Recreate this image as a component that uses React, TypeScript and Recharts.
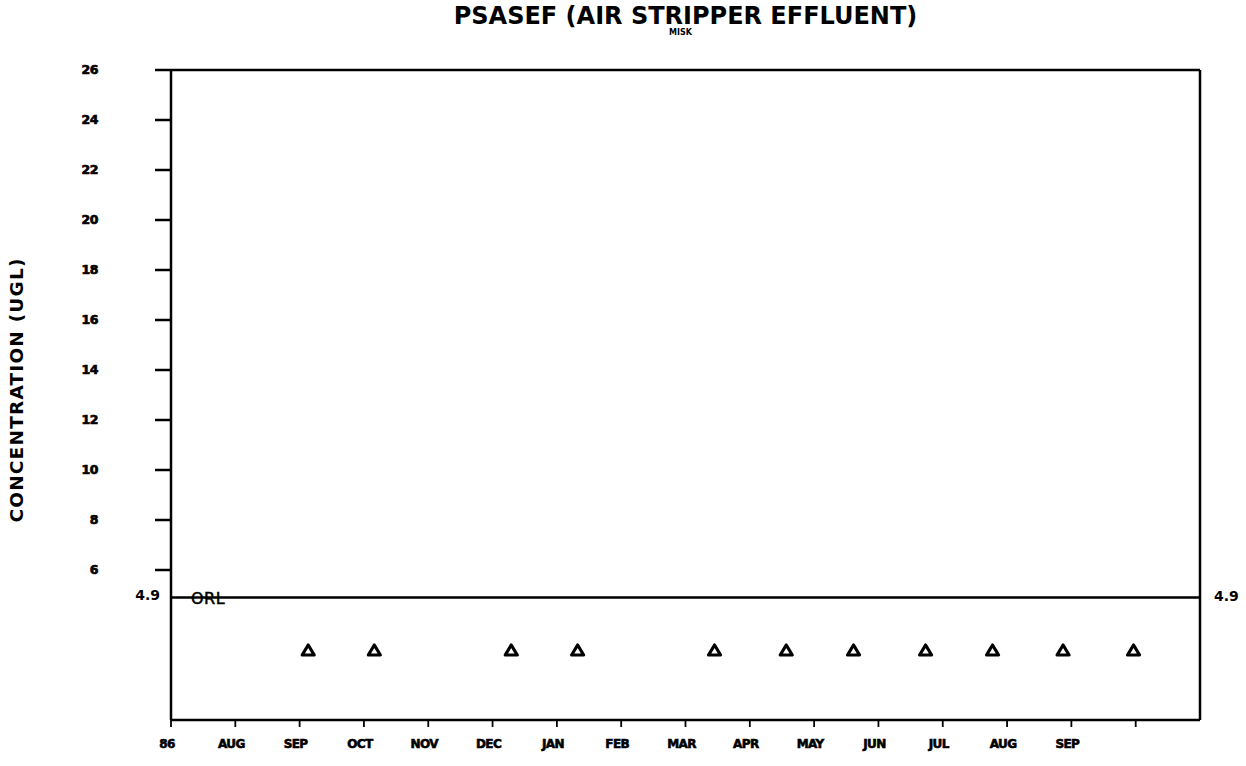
import React from 'react';
import { ComposedChart, XAxis, YAxis, Scatter, ReferenceLine } from 'recharts';

const monthLabels = ['86', 'AUG', 'SEP', 'OCT', 'NOV', 'DEC', 'JAN', 'FEB', 'MAR', 'APR', 'MAY', 'JUN', 'JUL', 'AUG', 'SEP', ''];
const yTicks = [6, 8, 10, 12, 14, 16, 18, 20, 22, 24, 26];
// sample dates as [year, month(1-12), day]
const sampleDates: [number, number, number][] = [
  [1986, 9, 5], [1986, 10, 6], [1986, 12, 10], [1987, 1, 11], [1987, 3, 15], [1987, 4, 18],
  [1987, 5, 20], [1987, 6, 23], [1987, 7, 25], [1987, 8, 28], [1987, 9, 30],
];
const sampleValues = [2.8, 2.8, 2.8, 2.8, 2.8, 2.8, 2.8, 2.8, 2.8, 2.8, 2.8];
const orlValue = 4.9;
const xMax = 16;
const yMax = 26;

const daysIn = (y: number, m: number) => new Date(y, m, 0).getDate();
const toMonthOffset = ([y, m, d]: [number, number, number]) => (y - 1986) * 12 + (m - 7) + (d - 1) / daysIn(y, m);

const data = sampleDates.map((dt, i) => ({ x: toMonthOffset(dt), y: sampleValues[i] }));
const xTicks = monthLabels.map((_, i) => i);

const FONT_B = '"DejaVu Sans", sans-serif';

const Triangle = (props: any) => {
  const { cx, cy } = props;
  const w = 6, h = 5;
  return (
    <path d={`M${cx},${cy - h} L${cx + w},${cy + h} L${cx - w},${cy + h} Z`} fill="none" stroke="#000" strokeWidth={3.2} strokeLinejoin="round" />
  );
};

const XTick = (props: any) => {
  const { payload } = props;
  const label = monthLabels[payload.value] ?? '';
  return (
    <text x={payload.coordinate - 4} y={748} textAnchor="middle" fontFamily={FONT_B} fontWeight="bold" fontSize={12} letterSpacing={-0.6} stroke="#000" strokeWidth={0.6} fill="#000">
      {label}
    </text>
  );
};

const YTick = (props: any) => {
  const { payload } = props;
  return (
    <text x={98} y={payload.coordinate + 4} textAnchor="end" fontFamily={FONT_B} fontWeight="bold" fontSize={12.5} letterSpacing={-0.5} stroke="#000" strokeWidth={0.7} fill="#000">
      {payload.value}
    </text>
  );
};

const OrlLabel = (props: any) => {
  const vb = props.viewBox || {};
  const y = vb.y;
  const x1 = vb.x;
  const x2 = vb.x + vb.width;
  return (
    <g>
      <text x={x1 - 11} y={y + 2} textAnchor="end" fontFamily={FONT_B} fontWeight="bold" fontSize={14} fill="#000">{String(orlValue)}</text>
      <text x={x1 + 20} y={y + 6} textAnchor="start" fontFamily={FONT_B} fontSize={16} letterSpacing={0.5} stroke="#000" strokeWidth={0.5} fill="#000">ORL</text>
      <text x={x2 + 14} y={y + 3} textAnchor="start" fontFamily={FONT_B} fontWeight="bold" fontSize={14} fill="#000">{String(orlValue)}</text>
    </g>
  );
};

const YLabel = () => (
  <text x={23} y={390} transform="rotate(-90 23 390)" textAnchor="middle" fontFamily={FONT_B} fontWeight="bold" fontSize={18.5} letterSpacing={1.2} fill="#000">
    CONCENTRATION (UGL)
  </text>
);

export default function App() {
  return (
    <div style={{ position: 'absolute', left: 0, top: 0, width: 1246, height: 766, background: '#fff' }}>
      <div style={{ position: 'absolute', left: 171, width: 1029, top: 1, textAlign: 'center', fontFamily: FONT_B, fontWeight: 'bold', fontSize: 24, lineHeight: '30px', color: '#000' }}>
        PSASEF (AIR STRIPPER EFFLUENT)
      </div>
      <div style={{ position: 'absolute', left: 171, width: 1019, top: 28, textAlign: 'center', fontFamily: FONT_B, fontWeight: 'bold', fontSize: 8, lineHeight: '10px', color: '#000' }}>
        MISK
      </div>
      <div style={{ position: 'absolute', left: 0, top: 0 }}>
        <ComposedChart width={1246} height={766} data={data} margin={{ top: 70, right: 46, bottom: 16, left: 111 }}>
          <XAxis dataKey="x" type="number" domain={[0, xMax]} ticks={xTicks} interval={0} allowDataOverflow
            axisLine={{ stroke: '#000', strokeWidth: 2.5 }} tickLine={{ stroke: '#000', strokeWidth: 1.8 }} tickSize={7} height={30} tick={<XTick />} />
          <YAxis type="number" domain={[0, yMax]} ticks={yTicks} interval={0} allowDataOverflow width={60}
            axisLine={{ stroke: '#000', strokeWidth: 2.5 }} tickLine={{ stroke: '#000', strokeWidth: 2.5 }} tickSize={16} tick={<YTick />}
            label={<YLabel />} />
          <ReferenceLine y={yMax} stroke="#000" strokeWidth={2.5} ifOverflow="visible" />
          <ReferenceLine x={xMax} stroke="#000" strokeWidth={2.5} ifOverflow="visible" />
          <ReferenceLine y={orlValue} stroke="#000" strokeWidth={2.4} label={<OrlLabel />} ifOverflow="visible" />
          <Scatter dataKey="y" fill="none" shape={<Triangle />} isAnimationActive={false} />
        </ComposedChart>
      </div>
    </div>
  );
}
